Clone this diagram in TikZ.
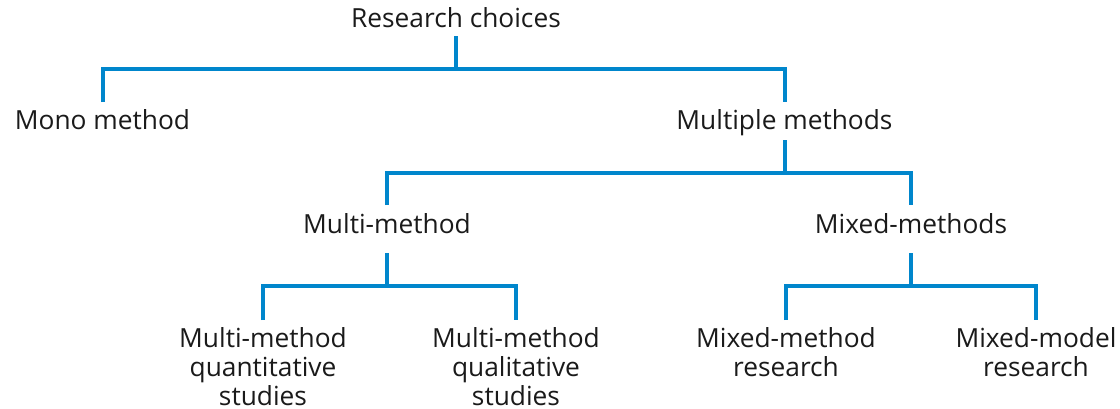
\documentclass[tikz,border=0pt]{standalone}
\usepackage{fontspec}
\setmainfont{Open Sans}
\usetikzlibrary{calc}
\definecolor{treeblue}{RGB}{0,134,204}
\definecolor{labeltext}{RGB}{26,26,26}
\tikzset{
  conn/.style={draw=treeblue, line width=4pt, line join=miter, line cap=butt},
  lbl/.style={anchor=base, inner sep=0pt, text=labeltext,
    font=\fontsize{26.3}{29}\selectfont},
}
\newcommand{\stack}[1]{\begin{tabular}[t]{@{}c@{}}#1\end{tabular}}
\begin{document}
\begin{tikzpicture}[x=1pt,y=-1pt]
\useasboundingbox[fill=white] (0,0) rectangle (1120,408);
% nodes
\node[lbl] (rc)    at (456,27)  {Research choices};
\node[lbl] (mono)  at (102.5,129) {Mono method};
\node[lbl] (mult)  at (784.5,129) {Multiple methods};
\node[lbl] (multi) at (387,233) {Multi-method};
\node[lbl] (mixed) at (911,233) {Mixed-methods};
\node[lbl] (mqn)   at (263,347) {\stack{Multi-method\\quantitative\\studies}};
\node[lbl] (mql)   at (516,347) {\stack{Multi-method\\qualitative\\studies}};
\node[lbl] (mxr)   at (786,347) {\stack{Mixed-method\\research}};
\node[lbl] (mxm)   at (1036,347) {\stack{Mixed-model\\research}};
% connector end points
\coordinate (rc-o)    at ($(rc.base)+(0,9)$);
\coordinate (mono-i)  at ($(mono.base)+(0,-27)$);
\coordinate (mult-i)  at ($(mult.base)+(0,-27)$);
\coordinate (mult-o)  at ($(mult.base)+(0,11)$);
\coordinate (multi-i) at ($(multi.base)+(0,-28)$);
\coordinate (mixed-i) at ($(mixed.base)+(0,-28)$);
\coordinate (multi-o) at ($(multi.base)+(0,20)$);
\coordinate (mixed-o) at ($(mixed.base)+(0,20)$);
\coordinate (mqn-i)   at ($(mqn.base)+(0,-27)$);
\coordinate (mql-i)   at ($(mql.base)+(0,-27)$);
\coordinate (mxr-i)   at ($(mxr.base)+(0,-27)$);
\coordinate (mxm-i)   at ($(mxm.base)+(0,-27)$);
\coordinate (j1) at (0,69);
\coordinate (j2) at (0,173);
\coordinate (j3) at (0,286);
% connectors
\draw[conn] (rc-o) -- (rc-o |- j1);
\draw[conn] (mono-i) -- (mono-i |- j1) -- (mult-i |- j1) -- (mult-i);
\draw[conn] (mult-o) -- (mult-o |- j2);
\draw[conn] (multi-i) -- (multi-i |- j2) -- (mixed-i |- j2) -- (mixed-i);
\draw[conn] (multi-o) -- (multi-o |- j3);
\draw[conn] (mqn-i) -- (mqn-i |- j3) -- (mql-i |- j3) -- (mql-i);
\draw[conn] (mixed-o) -- (mixed-o |- j3);
\draw[conn] (mxr-i) -- (mxr-i |- j3) -- (mxm-i |- j3) -- (mxm-i);
\end{tikzpicture}
\end{document}
